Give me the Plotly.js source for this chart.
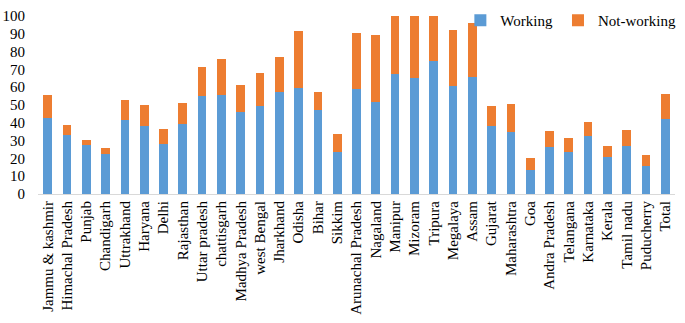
<!DOCTYPE html>
<html>
<head>
<meta charset="utf-8">
<script src="https://cdn.plot.ly/plotly-3.0.1.min.js"></script>
<style>html,body{margin:0;padding:0;background:#fff;}#chart{width:685px;height:323px;}</style>
</head>
<body>
<div id="chart"></div>
<script>
const states = ["Jammu & kashmir","Himachal Pradesh","Punjab","Chandigarh","Uttrakhand","Haryana","Delhi","Rajasthan","Uttar pradesh","chattisgarh","Madhya Pradesh","west Bengal","Jharkhand","Odisha","Bihar","Sikkim","Arunachal Pradesh","Nagaland","Manipur","Mizoram","Tripura","Megalaya","Assam","Gujarat","Maharashtra","Goa","Andra Pradesh","Telangana","Karnataka","Kerala","Tamil nadu","Puducherry","Total"];
const working = [42.8,33.0,27.6,22.7,41.6,38.3,28.3,39.4,55.0,55.9,46.2,49.6,57.5,59.5,47.3,23.5,59.1,51.6,67.2,64.9,74.7,60.9,65.6,38.3,34.6,13.6,26.3,23.8,32.4,20.8,27.2,15.8,41.9];
const notWorking = [12.6,5.7,3.0,3.1,11.1,11.7,8.3,12.0,16.5,19.9,14.9,18.1,19.7,32.3,10.2,10.2,31.6,37.6,32.8,35.1,25.3,31.4,30.4,11.0,15.9,6.5,9.2,7.7,8.3,6.1,8.5,6.1,14.2];

const font = {family: "Liberation Serif, Times New Roman, serif", size: 15, color: "#000"};
const data = [
  {type: "bar", name: "Working", x: states, y: working, marker: {color: "#5B9BD5"}},
  {type: "bar", name: "Not-working", x: states, y: notWorking, marker: {color: "#ED7D31"}}
];
const layout = {
  width: 685, height: 323, autosize: false,
  margin: {l: 38, r: 4, t: 8, b: 129, pad: 0},
  barmode: "stack", bargap: 0.55,
  font: font,
  paper_bgcolor: "#fff", plot_bgcolor: "#fff",
  showlegend: true,
  legend: {orientation: "h", x: 1.01, xanchor: "right", y: 0.975, yanchor: "middle", font: font, bgcolor: "rgba(0,0,0,0)", traceorder: "normal", itemwidth: 30},
  xaxis: {type: "category", tickangle: -90, showline: true, linecolor: "#D9D9D9", linewidth: 1, ticks: "", showgrid: false, automargin: false, tickfont: font, fixedrange: true},
  yaxis: {range: [0, 100], dtick: 10, showgrid: false, zeroline: false, showline: false, ticks: "", automargin: false, tickfont: font, ticklabelstandoff: 12, fixedrange: true}
};
Plotly.newPlot("chart", data, layout, {displayModeBar: false, staticPlot: true});
</script>
</body>
</html>
